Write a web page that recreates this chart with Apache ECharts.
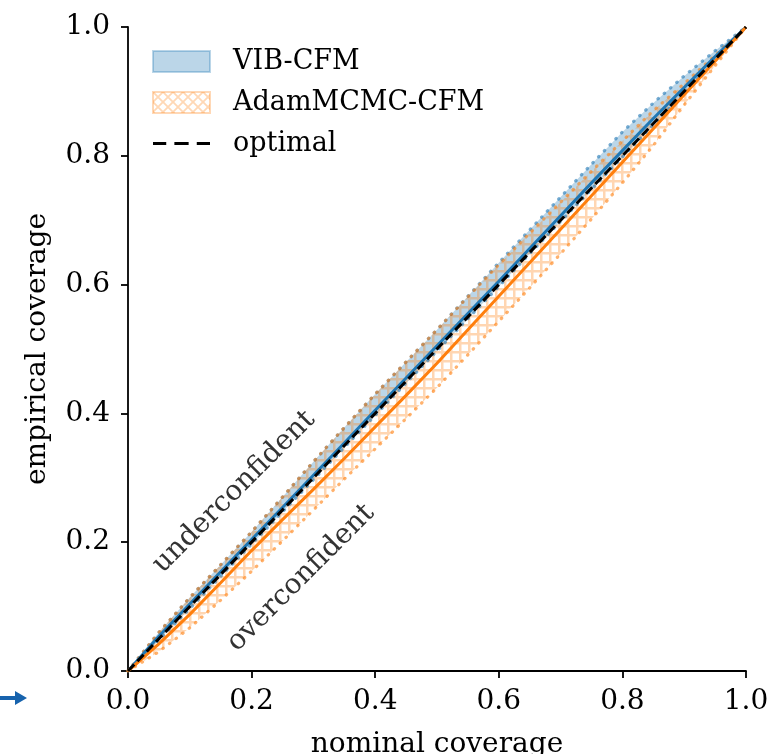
<!DOCTYPE html>
<html><head><meta charset="utf-8">
<script src="https://cdn.jsdelivr.net/npm/echarts@6/dist/echarts.min.js"></script>
<style>html,body{margin:0;padding:0;background:#fff}#c{width:772px;height:754px}</style>
</head><body><div id="c"></div>
<script>
// nominal coverage levels
const nominal = [0,0.05,0.1,0.15,0.2,0.25,0.3,0.35,0.4,0.45,0.5,0.55,0.6,0.65,0.7,0.75,0.8,0.85,0.9,0.95,1];
// VIB-CFM empirical coverage
const vibMean  = [0,0.054,0.104,0.154,0.204,0.254,0.304,0.354,0.405,0.455,0.505,0.555,0.605,0.656,0.707,0.758,0.808,0.858,0.906,0.954,1];
const vibUpper = [0,0.060,0.114,0.165,0.216,0.270,0.325,0.378,0.430,0.480,0.530,0.582,0.634,0.685,0.736,0.787,0.837,0.882,0.924,0.963,1];
const vibLower = [0,0.048,0.097,0.147,0.197,0.247,0.297,0.347,0.397,0.447,0.497,0.547,0.597,0.648,0.698,0.748,0.798,0.848,0.898,0.949,1];
// AdamMCMC-CFM empirical coverage
const adamMean  = [0,0.042,0.088,0.137,0.187,0.235,0.282,0.330,0.379,0.428,0.478,0.530,0.582,0.634,0.686,0.738,0.790,0.842,0.895,0.947,1];
const adamUpper = [0,0.060,0.114,0.165,0.216,0.270,0.325,0.378,0.430,0.480,0.530,0.581,0.631,0.680,0.728,0.776,0.823,0.870,0.912,0.956,1];
const adamLower = [0,0.030,0.067,0.110,0.155,0.202,0.250,0.298,0.345,0.392,0.440,0.491,0.543,0.595,0.648,0.702,0.758,0.816,0.879,0.940,1];
// optimal diagonal
const optimalX = [0,1];
const optimalY = [0,1];
const tickLabels = ['0.0','0.2','0.4','0.6','0.8','1.0'];

const FONT = 'DejaVu Serif';
const BLUE = '#1f77b4', ORANGE = '#ff7f0e';

function pairs(xs, ys){ return xs.map((x,i)=>[x, ys[i]]); }

function gridHatch(){
  const c = document.createElement('canvas'); c.width = 9; c.height = 9;
  const g = c.getContext('2d');
  g.fillStyle = 'rgba(255,127,14,0.32)';
  g.beginPath(); g.rect(0,0,9,2.5); g.rect(0,2.5,2.5,6.5); g.fill();
  return c;
}
function xHatch(){
  const c = document.createElement('canvas'); c.width = 10; c.height = 10;
  const g = c.getContext('2d');
  g.strokeStyle = 'rgba(255,127,14,0.3)'; g.lineWidth = 1.8;
  g.beginPath(); g.moveTo(0,0); g.lineTo(10,10); g.moveTo(10,0); g.lineTo(0,10); g.stroke();
  return c;
}

// band between two curves, drawn through the axes' coordinate system
function band(name, xs, up, lo, fill, z){
  return {
    name: name, type: 'custom', z: z, silent: true, clip: true,
    data: pairs(xs, up).concat(pairs(xs, lo)),
    encode: {x: 0, y: 1},
    renderItem: function(params, api){
      if (params.dataIndex !== 0) return null;
      const top = xs.map((x,i)=>api.coord([x, up[i]]));
      const bot = xs.map((x,i)=>api.coord([x, lo[i]])).reverse();
      return {type: 'polygon', shape: {points: top.concat(bot)}, style: {fill: fill}};
    }
  };
}

const dotted = (color) => ({color: color, width: 3.2, type: [0.5, 7.8], cap: 'round'});

const chart = echarts.init(document.getElementById('c'), null, {renderer: 'canvas'});
const axisCommon = {
  type: 'value', min: 0, max: 1, interval: 0.2,
  splitLine: {show: false},
  axisLine: {show: true, onZero: false, lineStyle: {color: '#000', width: 1.8}},
  axisTick: {show: true, inside: false, length: 7, lineStyle: {color: '#000', width: 1.8}},
  nameLocation: 'middle',
  nameTextStyle: {fontFamily: FONT, fontSize: 28, color: '#000'}
};
chart.setOption({
  animation: false,
  backgroundColor: '#fff',
  grid: {left: 128, right: 26, top: 27, bottom: 83, containLabel: false, outerBoundsMode: 'none'},
  xAxis: Object.assign({}, axisCommon, {
    name: 'nominal coverage', nameGap: 60,
    axisLabel: {fontFamily: FONT, fontSize: 28, color: '#000', margin: 17,
      formatter: v => tickLabels[Math.round(v/0.2)]}
  }),
  yAxis: Object.assign({}, axisCommon, {
    name: 'empirical coverage', nameGap: 76,
    axisLabel: {fontFamily: FONT, fontSize: 28, color: '#000', margin: 18,
      formatter: v => tickLabels[Math.round(v/0.2)]}
  }),
  legend: {
    orient: 'vertical', left: 147, top: 43, itemWidth: 57, itemHeight: 21, itemGap: 14,
    textStyle: {fontFamily: FONT, fontSize: 27, color: '#000', lineHeight: 21, padding: [0,0,0,18]},
    data: [
      {name: 'VIB-CFM', icon: 'rect', itemStyle: {color: 'rgba(31,119,180,0.3)', borderColor: 'rgba(31,119,180,0.3)', borderWidth: 2}},
      {name: 'AdamMCMC-CFM', icon: 'rect', itemStyle: {color: {image: xHatch(), repeat: 'repeat'}, borderColor: 'rgba(255,127,14,0.3)', borderWidth: 2}},
      {name: 'optimal', icon: 'path://M0,0h13v3h-13zM21,0h14v3h-14zM43,0h13v3h-13z', itemStyle: {color: '#000'}}
    ]
  },
  series: [
    band('VIB-CFM', nominal, vibUpper, vibLower, 'rgba(31,119,180,0.3)', 1),
    band('AdamMCMC-CFM', nominal, adamUpper, adamLower, {image: gridHatch(), repeat: 'repeat'}, 2),
    {name: 'vib-upper', type: 'line', data: pairs(nominal, vibUpper), symbol: 'none', lineStyle: dotted('rgba(31,119,180,0.6)'), z: 3},
    {name: 'vib-lower', type: 'line', data: pairs(nominal, vibLower), symbol: 'none', lineStyle: dotted('rgba(31,119,180,0.6)'), z: 3},
    {name: 'adam-upper', type: 'line', data: pairs(nominal, adamUpper), symbol: 'none', lineStyle: dotted('rgba(255,127,14,0.6)'), z: 3},
    {name: 'adam-lower', type: 'line', data: pairs(nominal, adamLower), symbol: 'none', lineStyle: dotted('rgba(255,127,14,0.6)'), z: 3},
    {name: 'vib-mean', type: 'line', data: pairs(nominal, vibMean), symbol: 'none', lineStyle: {color: BLUE, width: 3}, z: 4},
    {name: 'adam-mean', type: 'line', data: pairs(nominal, adamMean), symbol: 'none', lineStyle: {color: ORANGE, width: 3}, z: 4},
    {name: 'optimal', type: 'line', data: pairs(optimalX, optimalY), symbol: 'none', itemStyle: {color: '#000'},
      lineStyle: {color: '#000', width: 3, type: [9, 4.5]}, z: 5}
  ],
  graphic: [
    {type: 'text', x: 234, y: 492, rotation: Math.PI/4, silent: true,
      style: {text: 'underconfident', font: '28px "DejaVu Serif"', fill: '#333', align: 'center', verticalAlign: 'middle'}},
    {type: 'text', x: 301, y: 578, rotation: Math.PI/4, silent: true,
      style: {text: 'overconfident', font: '28px "DejaVu Serif"', fill: '#333', align: 'center', verticalAlign: 'middle'}},
    {type: 'polygon', silent: true,
      shape: {points: [[0,696],[15,696],[15,691],[27,698],[15,705],[15,700],[0,700]]},
      style: {fill: '#1763ad'}}
  ]
});
</script>
</body></html>
